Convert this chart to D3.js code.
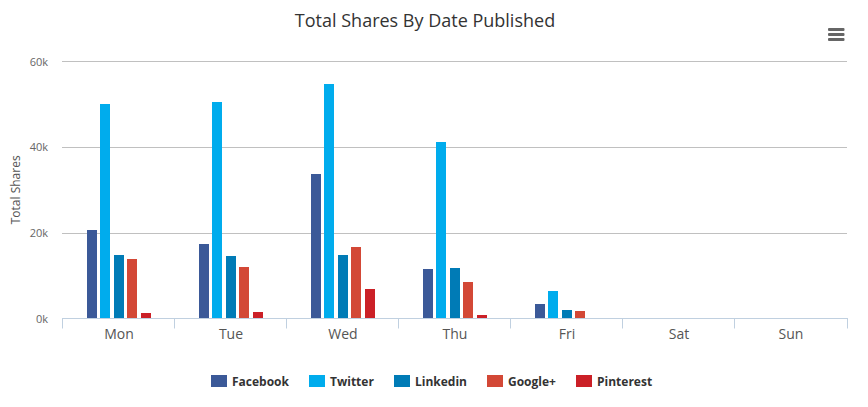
<!DOCTYPE html>
<html>
<head>
<meta charset="utf-8">
<script src="https://cdnjs.cloudflare.com/ajax/libs/d3/7.8.5/d3.min.js"></script>
<style>
html,body{margin:0;padding:0;background:#fff;}
svg{display:block;font-family:"Open Sans",sans-serif;}
</style>
</head>
<body>
<svg id="c" width="868" height="407"></svg>
<script>
const days = ["Mon","Tue","Wed","Thu","Fri","Sat","Sun"];
const seriesNames = ["Facebook","Twitter","Linkedin","Google+","Pinterest"];
const seriesColors = ["#3b5998","#00aced","#007bb6","#d34836","#cb2027"];
const facebook = [20700,17400,33800,11600,3400,0,0];
const twitter = [50100,50500,54700,41200,6400,0,0];
const linkedin = [14800,14600,14800,11800,2000,0,0];
const googlePlus = [13900,12000,16700,8500,1700,0,0];
const pinterest = [1300,1500,6900,800,0,0,0];
const yTicks = [0,20000,40000,60000];
const seriesValues = [facebook,twitter,linkedin,googlePlus,pinterest];

const svg = d3.select("#c");
const left = 62, right = 847, top0 = 61.2, bottom = 318.5;
const x = d3.scaleBand().domain(days).range([left,right]);
const y = d3.scaleLinear().domain([0,60000]).range([bottom,top0]);
const inner = d3.scaleBand().domain(seriesNames).range([25,89.125]).paddingInner(0.25).paddingOuter(0);

svg.append("text").attr("x",425).attr("y",27).attr("text-anchor","middle")
  .attr("font-size",18).attr("fill","#333").text("Total Shares By Date Published");

// grid + y labels
const yAxis = d3.axisLeft(y).tickValues(yTicks).tickSize(0).tickPadding(0)
  .tickFormat(d => (d/1000)+"k");
const yG = svg.append("g").attr("transform",`translate(${left-14},0)`).call(yAxis);
yG.select(".domain").remove();
yG.selectAll("text").attr("font-family","'Open Sans',sans-serif").attr("font-size",11).attr("fill","#666").attr("dy","0.35em");

svg.append("g").selectAll("line").data(yTicks.filter(d=>d>0)).join("line")
  .attr("x1",left).attr("x2",right)
  .attr("y1",d=>Math.round(y(d))+0.5).attr("y2",d=>Math.round(y(d))+0.5)
  .attr("stroke","#c0c0c0").attr("stroke-width",1);

svg.append("text").attr("transform",`translate(20,${(top0+bottom)/2}) rotate(-90)`)
  .attr("text-anchor","middle").attr("font-size",12).attr("fill","#555").attr("y",0).text("Total Shares");

// bars
seriesNames.forEach((name,si)=>{
  svg.append("g").selectAll("rect").data(seriesValues[si]).join("rect")
    .attr("x",(d,i)=>Math.floor(x(days[i]))+Math.floor(inner(name)))
    .attr("width",10)
    .attr("y",d=>Math.round(y(d)))
    .attr("height",d=>Math.max(0,bottom-Math.round(y(d))))
    .attr("fill",seriesColors[si]);
});

// x axis
const axisY = bottom+0.5;
svg.append("line").attr("x1",left).attr("x2",right+1).attr("y1",axisY-0.5).attr("y2",axisY-0.5)
  .attr("stroke","#c0d0e0").attr("stroke-width",1);
svg.append("g").selectAll("line").data(d3.range(days.length+1)).join("line")
  .attr("x1",i=>Math.floor(left+i*x.bandwidth())+0.5).attr("x2",i=>Math.floor(left+i*x.bandwidth())+0.5)
  .attr("y1",axisY-0.5).attr("y2",axisY+9.5).attr("stroke","#c0d0e0");
svg.append("g").selectAll("text").data(days).join("text")
  .attr("x",d=>Math.ceil(x(d)+x.bandwidth()/2)).attr("y",339).attr("text-anchor","middle")
  .attr("font-size",14).attr("fill","#555").text(d=>d);

// legend
const legendX = [211,309,394,487,576];
const lg = svg.append("g").selectAll("g").data(seriesNames).join("g")
  .attr("transform",(d,i)=>`translate(${legendX[i]},375)`);
lg.append("rect").attr("width",16).attr("height",12).attr("fill",(d,i)=>seriesColors[i]);
lg.append("text").attr("x",21).attr("y",11).attr("font-size",12).attr("font-weight",700)
  .attr("fill","#333").text(d=>d);

// menu icon
svg.append("g").selectAll("rect").data([0,5,10]).join("rect")
  .attr("x",828).attr("y",d=>28+d).attr("width",16.5).attr("height",3).attr("rx",1).attr("fill","#666");
</script>
</body>
</html>
